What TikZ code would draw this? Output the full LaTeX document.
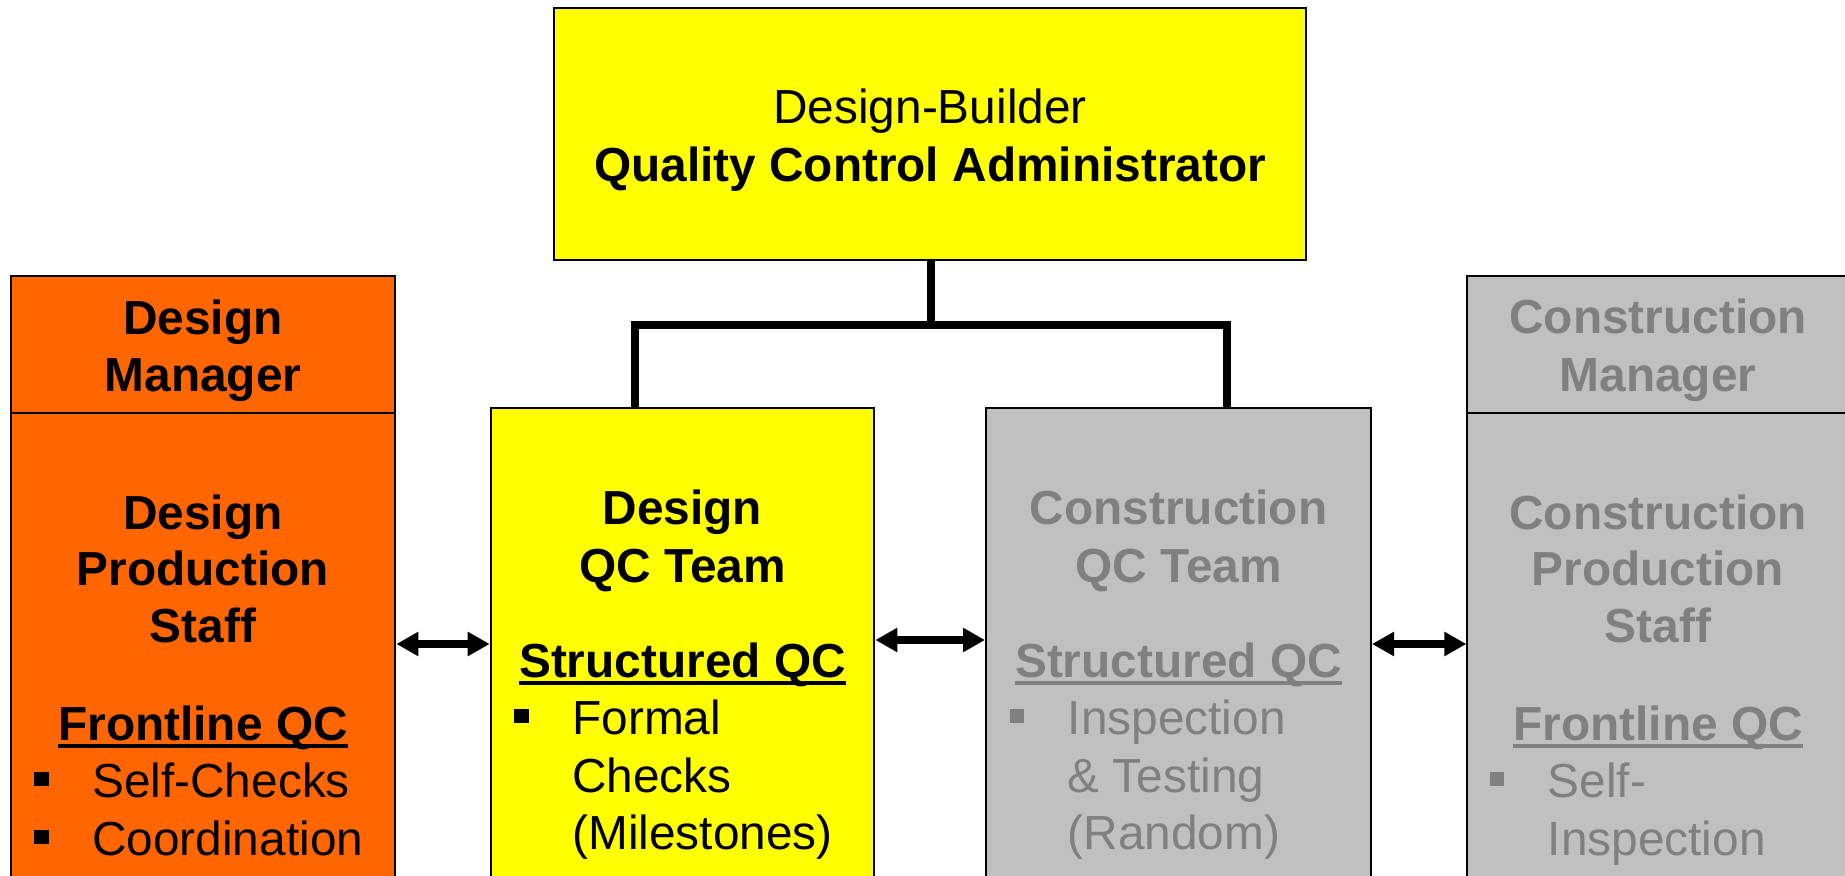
\documentclass[tikz,border=0pt]{standalone}
\usepackage{fontspec}
\setmainfont{Liberation Sans}
\usetikzlibrary{fit,arrows.meta}
\definecolor{dborange}{HTML}{FF6600}
\definecolor{dbyellow}{HTML}{FFFF00}
\definecolor{dbgray}{HTML}{C0C0C0}
\definecolor{dbtext}{HTML}{808080}
\begin{document}
\begin{tikzpicture}[x=0.5pt,y=-0.5pt,
  box/.style={draw=black, line width=1pt, inner sep=0pt},
  ln/.style={anchor=base, inner sep=0pt, font=\fontsize{23.9pt}{28.7pt}\selectfont},
  lnb/.style={anchor=base, inner sep=0pt, font=\fontsize{23.9pt}{28.7pt}\selectfont\bfseries},
  lnl/.style={ln, anchor=base west},
  conn/.style={line width=3.7pt},
  link/.style={line width=4pt, {Triangle[length=11pt,width=11.5pt]}-{Triangle[length=11pt,width=11.5pt]}},
  uline/.style={line width=2.3pt},
  bul/.style={inner sep=0pt, minimum size=7.3pt, fill}]
\useasboundingbox (0,0) rectangle (1845,876);
\clip (0,0) rectangle (1845,876);
\fill[white] (0,0) rectangle (1845,876);

% boxes
\node[box, fill=dbyellow, fit={(554,8) (1306,260)}] (top) {};
\node[box, fill=dborange, fit={(10.6,276.5) (395.4,413)}] (dmh) {};
\node[box, fill=dborange, fit={(10.6,413) (395.4,900)}] (dmb) {};
\node[box, fill=dbyellow, fit={(490.7,408.3) (874.3,900)}] (dqc) {};
\node[box, fill=dbgray, fit={(986,408.3) (1371,900)}] (cqc) {};
\node[box, fill=dbgray, fit={(1467.4,276.5) (1852,413)}] (cmh) {};
\node[box, fill=dbgray, fit={(1467.4,413) (1852,900)}] (cmb) {};

% connectors
\coordinate (jm) at (931,325);
\coordinate (jl) at (635,325);
\coordinate (jr) at (1227,325);
\draw[conn] (top.south -| jm) -- (jm);
\draw[conn, line cap=rect] (jl) -- (jr);
\draw[conn] (jl) -- (jl |- dqc.north);
\draw[conn] (jr) -- (jr |- cqc.north);

\draw[link] (dmb.east |- 0,644) -- (dqc.west |- 0,644);
\draw[link] (dqc.east |- 0,640) -- (cqc.west |- 0,640);
\draw[link] (cqc.east |- 0,644) -- (cmb.west |- 0,644);

% top box text
\node[ln] (t1) at (930,124) {Design-Builder};
\node[lnb] (t2) at (930,182) {Quality Control Administrator};

% design manager
\node[lnb] (a1) at (203,335) {Design};
\node[lnb] (a2) at (203,392) {Manager};
\node[lnb] (a3) at (203,529) {Design};
\node[lnb] (a4) at (203,585) {Production};
\node[lnb] (a5) at (203,642) {Staff};
\node[lnb] (a6) at (203,740) {Frontline QC};
\draw[uline] ([yshift=-3pt]a6.base west) -- ([yshift=-3pt]a6.base east);
\node[bul] (ab1) at (41.5,779) {};
\node[lnl] (a7) at (91.8,797) {Self-Checks};
\node[bul] (ab2) at (41.5,837) {};
\node[lnl] (a8) at (91.8,855) {Coordination};

% design QC team
\node[lnb] (b1) at (682.5,524) {Design};
\node[lnb] (b2) at (682.5,582) {QC Team};
\node[lnb] (b3) at (682.5,677) {Structured QC};
\draw[uline] ([yshift=-3pt]b3.base west) -- ([yshift=-3pt]b3.base east);
\node[bul] (bb1) at (521.6,716) {};
\node[lnl] (b4) at (571.9,734) {Formal};
\node[lnl] (b5) at (571.9,792) {Checks};
\node[lnl] (b6) at (571.9,849) {(Milestones)};

% construction QC team
\begin{scope}[every node/.append style={text=dbtext}]
\node[lnb] (c1) at (1178.5,524) {Construction};
\node[lnb] (c2) at (1178.5,582) {QC Team};
\node[lnb] (c3) at (1178.5,677) {Structured QC};
\node[bul, fill=dbtext] (cb1) at (1017,716) {};
\node[lnl] (c4) at (1067.3,734) {Inspection};
\node[lnl] (c5) at (1067.3,792) {\&~Testing};
\node[lnl] (c6) at (1067.3,849) {(Random)};
\end{scope}
\draw[uline, dbtext] ([yshift=-3pt]c3.base west) -- ([yshift=-3pt]c3.base east);

% construction manager
\begin{scope}[every node/.append style={text=dbtext}]
\node[lnb] (d1) at (1658,334) {Construction};
\node[lnb] (d2) at (1658,392) {Manager};
\node[lnb] (d3) at (1658,529) {Construction};
\node[lnb] (d4) at (1658,585) {Production};
\node[lnb] (d5) at (1658,642) {Staff};
\node[lnb] (d6) at (1658,740) {Frontline QC};
\node[bul, fill=dbtext] (db1) at (1497.1,779) {};
\node[lnl] (d7) at (1547.4,797) {Self-};
\node[lnl] (d8) at (1547.4,855) {Inspection};
\end{scope}
\draw[uline, dbtext] ([yshift=-3pt]d6.base west) -- ([yshift=-3pt]d6.base east);
\end{tikzpicture}
\end{document}
